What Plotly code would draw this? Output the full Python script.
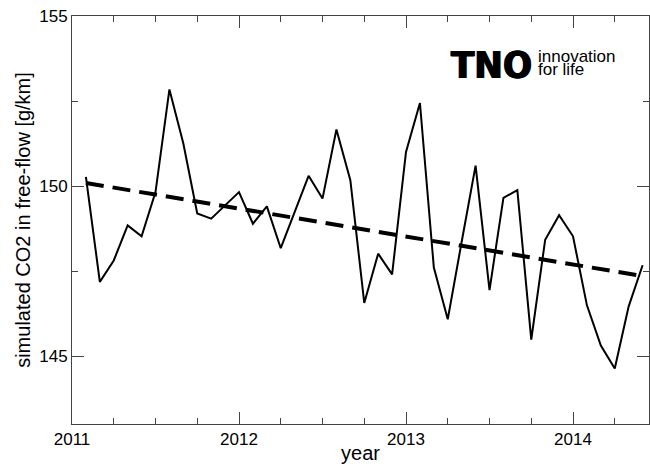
import plotly.graph_objects as go

# monthly data: month index k (years = 2011 + k/12)
months = list(range(1, 42))
co2 = [150.27, 147.18, 147.81, 148.84, 148.52, 149.82, 152.84, 151.25, 149.19, 149.04,
       149.43, 149.82, 148.89, 149.40, 148.17, 149.25, 150.30, 149.63, 151.66, 150.17,
       146.56, 148.01, 147.40, 151.00, 152.44, 147.60, 146.08, 148.36, 150.60, 146.94,
       149.65, 149.88, 145.48, 148.42, 149.14, 148.52, 146.49, 145.31, 144.63, 146.46,
       147.67]
trend_months = [1, 41]
trend_vals = [150.09, 147.35]

years = [2011 + k / 12 for k in months]
trend_years = [2011 + k / 12 for k in trend_months]

fig = go.Figure()
fig.add_trace(go.Scatter(x=years, y=co2, mode="lines",
                         line=dict(color="black", width=2), showlegend=False))
fig.add_trace(go.Scatter(x=trend_years, y=trend_vals, mode="lines",
                         line=dict(color="black", width=4, dash="18px,9px"), showlegend=False))

axis_common = dict(showgrid=False, zeroline=False, showline=True, linecolor="#444",
                   linewidth=1, mirror="ticks", ticks="inside", ticklen=12,
                   tickcolor="#444", tickwidth=1,
                   tickfont=dict(family="Liberation Sans, Arial", size=17, color="black"))

fig.update_layout(
    width=650, height=464,
    margin=dict(l=72, r=1, t=16, b=40),
    paper_bgcolor="white", plot_bgcolor="white",
    xaxis=dict(range=[2011, 2014.455], tickvals=[2011, 2012, 2013, 2014],
               ticktext=["2011", "2012", "2013", "2014"],
               minor=dict(ticks="inside", ticklen=6, dtick=0.25, tick0=2011, tickcolor="#444"),
               title=dict(text="year", font=dict(family="Liberation Sans, Arial", size=20, color="black"), standoff=1),
               **axis_common),
    yaxis=dict(range=[143, 155], tickvals=[145, 150, 155],
               minor=dict(ticks="inside", ticklen=6, dtick=2.5, tick0=145, tickcolor="#444"),
               title=dict(text="simulated CO2 in free-flow [g/km]",
                          font=dict(family="Liberation Sans, Arial", size=20, color="black"), standoff=3),
               **axis_common),
)

fig.add_annotation(xref="paper", yref="paper", x=(449 - 72) / 577, y=(424 - 41) / 408,
                   xanchor="left", yanchor="top", text="TNO", showarrow=False,
                   font=dict(family="DejaVu Sans Condensed, DejaVu Sans", size=38,
                             weight=900, color="black",
                             shadow="0.7px 0 0 black, -0.7px 0 0 black"))
fig.add_annotation(xref="paper", yref="paper", x=(536 - 72) / 577, y=(424 - 45) / 408,
                   xanchor="left", yanchor="top", text="innovation", showarrow=False,
                   font=dict(family="Liberation Sans, Arial", size=17, color="black"))
fig.add_annotation(xref="paper", yref="paper", x=(536 - 72) / 577, y=(424 - 58) / 408,
                   xanchor="left", yanchor="top", text="for life", showarrow=False,
                   font=dict(family="Liberation Sans, Arial", size=17, color="black"))

fig.write_html("out.html")
